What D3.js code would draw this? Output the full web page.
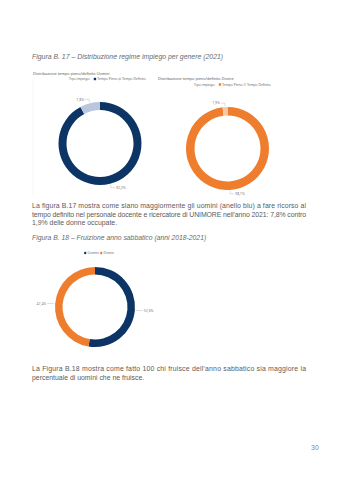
<!DOCTYPE html>
<html><head><meta charset="utf-8">
<script src="https://cdn.jsdelivr.net/npm/d3@7"></script>
<style>
html,body{margin:0;padding:0;background:#fff;}
svg{display:block;}
</style></head>
<body>
<svg id="page" width="339" height="480"></svg>
<script>
// ---- data ----
const tipoImpiego = ["Tempo Pieno", "Tempo Definito"];
const uominiValues = [92.2, 7.8];
const donneValues = [98.1, 1.9];
const generi = ["Uomini", "Donne"];
const sabbaticoValues = [52.6, 47.4];

const textLines1 = [
  "La figura B.17 mostra come siano maggiormente gli uomini (anello blu) a fare ricorso al",
  "tempo definito nel personale docente e ricercatore di UNIMORE nell’anno 2021: 7,8% contro",
  "1,9% delle donne occupate."
];
const textLines2 = [
  "La Figura B.18 mostra come fatto 100 chi fruisce dell’anno sabbatico sia maggiore la",
  "percentuale di uomini che ne fruisce."
];

const svg = d3.select("#page");
const fmt = v => d3.format(".1f")(v).replace(".", ",") + "%";

// ---- page text ----
function para(lines, x, y, lh) {
  lines.forEach((l, i) => {
    const t = svg.append("text").attr("x", x).attr("y", y + i * lh)
      .attr("font-family", "Liberation Sans, Arial, sans-serif")
      .attr("font-size", 6.9).attr("fill", "#5a5a5a").text(l);
    if (i < lines.length - 1) t.attr("textLength", 274).attr("lengthAdjust", "spacing");
  });
}
svg.append("text").attr("x", 32).attr("y", 59)
  .attr("font-family", "Liberation Sans, Arial, sans-serif").attr("font-style", "italic")
  .attr("font-size", 6.9).attr("fill", "#6a6a6a")
  .text("Figura B. 17 – Distribuzione regime impiego per genere (2021)");
para(textLines1, 32, 208, 8.6);
svg.append("text").attr("x", 32).attr("y", 240)
  .attr("font-family", "Liberation Sans, Arial, sans-serif").attr("font-style", "italic")
  .attr("font-size", 6.8).attr("fill", "#6a6a6a")
  .text("Figura B. 18 – Fruizione anno sabbatico (anni 2018-2021)");
para(textLines2, 32, 371, 8.6);
svg.append("text").attr("x", 311).attr("y", 450)
  .attr("font-family", "Liberation Sans, Arial, sans-serif")
  .attr("font-size", 7).attr("fill", "#888").text("30");

// ---- donut helper ----
function donut(cfg) {
  const g = svg.append("g").attr("transform", `translate(${cfg.cx},${cfg.cy})`);
  const pie = d3.pie().sort(null).value(d => d);
  const arcs = pie(cfg.values);
  const arc = d3.arc().innerRadius(cfg.r - cfg.w).outerRadius(cfg.r);
  const color = d3.scaleOrdinal().domain(d3.range(cfg.values.length)).range(cfg.colors);
  g.selectAll("path.slice").data(arcs).enter().append("path")
    .attr("class", "slice").attr("d", arc).attr("fill", (d, i) => color(i));
  const lArc = d3.arc().innerRadius(cfg.r + 4).outerRadius(cfg.r + 4);
  const oArc = d3.arc().innerRadius(cfg.r + 1).outerRadius(cfg.r + 1);
  arcs.forEach((d, i) => {
    const p1 = oArc.centroid(d), p2 = lArc.centroid(d);
    const right = p2[0] >= 0;
    const p3 = [p2[0] + (right ? 4 : -4), p2[1]];
    g.append("polyline").attr("points", [p1, p2, p3].map(p => p.join(",")).join(" "))
      .attr("fill", "none").attr("stroke", "#aaa").attr("stroke-width", 0.4);
    g.append("text").attr("x", p3[0] + (right ? 1 : -1)).attr("y", p3[1] + 1.2)
      .attr("text-anchor", right ? "start" : "end")
      .attr("font-family", "Noto Sans, sans-serif").attr("font-size", 3.4).attr("fill", "#777")
      .text(fmt(cfg.values[i]));
  });
}

function legend(x, y, title, labels, colors, shape) {
  const g = svg.append("g").attr("transform", `translate(${x},${y})`)
    .attr("font-family", "Noto Sans, sans-serif").attr("font-size", 3.3).attr("fill", "#666");
  let cx = 0;
  if (title) {
    g.append("text").attr("x", 0).attr("y", 1.2).text(title);
    cx += title.length * 1.75 + 2;
  }
  labels.forEach((l, i) => {
    if (shape === "circle") g.append("circle").attr("cx", cx + 1.2).attr("cy", 0).attr("r", 1.2).attr("fill", colors[i]);
    else g.append("rect").attr("x", cx).attr("y", -1.2).attr("width", 2.4).attr("height", 2.4).attr("fill", colors[i]);
    g.append("text").attr("x", cx + 3.5).attr("y", 1.2).text(l);
    cx += 3.5 + l.length * 1.75 + 2;
  });
}

const navy = "#0c3566", lightBlue = "#bac6dc", orange = "#ee7d2d", lightOrange = "#f7c9a0";

// chart 1
svg.append("line").attr("x1", 33).attr("x2", 33).attr("y1", 80).attr("y2", 195)
  .attr("stroke", "#eee").attr("stroke-width", 0.5);
svg.append("text").attr("x", 33).attr("y", 75).attr("font-family", "Noto Sans, sans-serif")
  .attr("font-size", 3.8).attr("fill", "#555").text("Distribuzione tempo pieno/definito Uomini");
legend(69, 79, "Tipo impiego:", tipoImpiego, [navy, lightBlue], "rect");
donut({cx: 100, cy: 143.5, r: 41.5, w: 8, values: uominiValues, colors: [navy, lightBlue]});

// chart 2
svg.append("text").attr("x", 158).attr("y", 80).attr("font-family", "Noto Sans, sans-serif")
  .attr("font-size", 3.8).attr("fill", "#555").text("Distribuzione tempo pieno/definito Donne");
legend(194, 84.5, "Tipo impiego:", tipoImpiego, [orange, lightOrange], "rect");
donut({cx: 227.5, cy: 148.5, r: 41.5, w: 8.5, values: donneValues, colors: [orange, lightOrange]});

// chart 3
legend(84, 253, null, generi, [navy, orange], "circle");
donut({cx: 95, cy: 307, r: 40, w: 7.5, values: sabbaticoValues, colors: [navy, orange]});
</script>
</body></html>
